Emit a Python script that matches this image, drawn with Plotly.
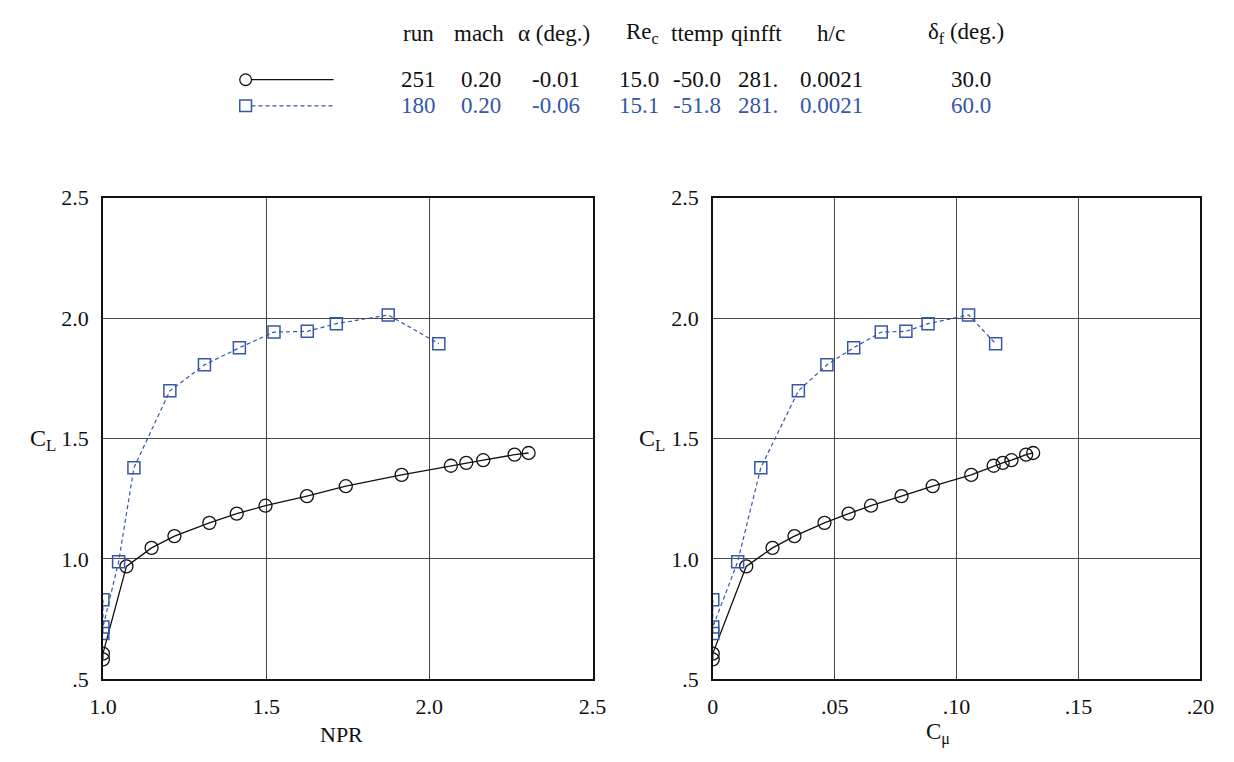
import plotly.graph_objects as go

# ---------------- data ----------------
npr_251 = [1.000, 1.000, 1.072, 1.149, 1.219, 1.326, 1.410, 1.498, 1.625, 1.744, 1.915, 2.066, 2.113, 2.165, 2.261, 2.304]
cmu_251 = [0.0000, 0.0000, 0.0137, 0.0245, 0.0335, 0.0458, 0.0557, 0.0649, 0.0774, 0.0902, 0.1060, 0.1152, 0.1189, 0.1225, 0.1285, 0.1314]
cl_251 = [0.583, 0.607, 0.969, 1.046, 1.095, 1.150, 1.188, 1.221, 1.261, 1.302, 1.349, 1.387, 1.399, 1.410, 1.433, 1.440]

npr_180 = [1.000, 1.000, 1.000, 1.048, 1.095, 1.205, 1.311, 1.418, 1.524, 1.626, 1.715, 1.874, 2.029]
cmu_180 = [0.0000, 0.0000, 0.0000, 0.0102, 0.0197, 0.0351, 0.0468, 0.0578, 0.0691, 0.0792, 0.0883, 0.1049, 0.1160]
cl_180 = [0.831, 0.690, 0.717, 0.988, 1.379, 1.698, 1.806, 1.877, 1.942, 1.945, 1.977, 2.013, 1.894]

header_labels = ["run", "mach", "α (deg.)", "Re<sub>c</sub>", "ttemp", "qinfft", "h/c", "δ<sub>f</sub> (deg.)"]
row_251 = ["251", "0.20", "-0.01", "15.0", "-50.0", "281.", "0.0021", "30.0"]
row_180 = ["180", "0.20", "-0.06", "15.1", "-51.8", "281.", "0.0021", "60.0"]

y_ticks = [0.5, 1.0, 1.5, 2.0, 2.5]
y_ticktext = [".5", "1.0", "1.5", "2.0", "2.5"]
npr_ticks = [1.0, 1.5, 2.0, 2.5]
npr_ticktext = ["1.0", "1.5", "2.0", "2.5"]
cmu_ticks = [0.0, 0.05, 0.10, 0.15, 0.20]
cmu_ticktext = ["0", ".05", ".10", ".15", ".20"]

# ---------------- styles ----------------
W, H = 1234, 762
FONT = "Liberation Serif, Times New Roman, serif"
BLACK = "#111111"
BLUE = "#3656a8"
GRID = "#4a4a4a"


def px(x):
    return x / W


def py(y):
    return 1 - y / H


fig = go.Figure()

circle_style = dict(symbol="circle-open", size=13, color=BLACK, line=dict(width=1.3, color=BLACK))
square_style = dict(symbol="square-open", size=12, color=BLUE, line=dict(width=1.5, color=BLUE))

fig.add_trace(go.Scatter(x=npr_251, y=cl_251, mode="lines+markers", xaxis="x", yaxis="y",
                         line=dict(color=BLACK, width=1.3), marker=circle_style, showlegend=False))
fig.add_trace(go.Scatter(x=npr_180, y=cl_180, mode="lines+markers", xaxis="x", yaxis="y",
                         line=dict(color=BLUE, width=1.2, dash="4px,3px"), marker=square_style, showlegend=False))
fig.add_trace(go.Scatter(x=cmu_251, y=cl_251, mode="lines+markers", xaxis="x2", yaxis="y2",
                         line=dict(color=BLACK, width=1.3), marker=circle_style, showlegend=False))
fig.add_trace(go.Scatter(x=cmu_180, y=cl_180, mode="lines+markers", xaxis="x2", yaxis="y2",
                         line=dict(color=BLUE, width=1.2, dash="4px,3px"), marker=square_style, showlegend=False))

tickfont = dict(family=FONT, size=22, color=BLACK)
common_axis = dict(showline=True, linecolor=BLACK, linewidth=1.5, mirror=True,
                   showgrid=True, gridcolor=GRID, gridwidth=1, zeroline=False,
                   ticks="", tickfont=tickfont, fixedrange=True)

ydom = [py(690), py(192)]
fig.update_layout(
    width=W, height=H,
    margin=dict(l=0, r=0, t=0, b=0),
    paper_bgcolor="white", plot_bgcolor="white",
    showlegend=False,
    font=dict(family=FONT),
    xaxis=dict(domain=[px(91), px(592)], range=[1.0, 2.5], tickvals=npr_ticks, ticktext=npr_ticktext,
               anchor="y", ticklabelstandoff=6, **common_axis),
    yaxis=dict(domain=ydom, range=[0.5, 2.5], tickvals=y_ticks, ticktext=y_ticktext,
               anchor="x", ticklabelstandoff=8, **common_axis),
    xaxis2=dict(domain=[px(715), px(1214)], range=[0.0, 0.2], tickvals=cmu_ticks, ticktext=cmu_ticktext,
                anchor="y2", ticklabelstandoff=6, **common_axis),
    yaxis2=dict(domain=ydom, range=[0.5, 2.5], tickvals=y_ticks, ticktext=y_ticktext,
                anchor="x2", ticklabelstandoff=8, **common_axis),
)

annotations = []


def add_text(x, y, text, size=23, color=BLACK, xanchor="center"):
    annotations.append(dict(x=px(x), y=py(y), xref="paper", yref="paper", text=text, showarrow=False,
                            xanchor=xanchor, yanchor="middle", font=dict(family=FONT, size=size, color=color)))


# axis titles
add_text(335, 747, "NPR", size=22)
add_text(945, 746, "C<sub>μ</sub>", size=23)
add_text(30, 443, "C<sub>L</sub>", size=24)
add_text(653, 443, "C<sub>L</sub>", size=24)

# legend table
header_x = [414, 476, 553, 643, 699, 760, 836, 974]
value_x = [414, 478, 555, 640, 699, 761, 836, 979]
for lab, xx in zip(header_labels, header_x):
    add_text(xx, 22, lab)
for val, xx in zip(row_251, value_x):
    add_text(xx, 70, val, color=BLACK)
for val, xx in zip(row_180, value_x):
    add_text(xx, 97, val, color=BLUE)

fig.update_layout(annotations=annotations)

# legend keys
shapes = [
    dict(type="line", xref="paper", yref="paper", x0=px(243), x1=px(327), y0=py(70), y1=py(70),
         line=dict(color=BLACK, width=1.3)),
    dict(type="circle", xref="paper", yref="paper", x0=px(231), x1=px(243), y0=py(76), y1=py(64),
         line=dict(color=BLACK, width=1.3), fillcolor="white"),
    dict(type="line", xref="paper", yref="paper", x0=px(243), x1=px(327), y0=py(97), y1=py(97),
         line=dict(color=BLUE, width=1.2, dash="4px,3px")),
    dict(type="rect", xref="paper", yref="paper", x0=px(231), x1=px(243), y0=py(103), y1=py(91),
         line=dict(color=BLUE, width=1.5), fillcolor="white"),
]
fig.update_layout(shapes=shapes)

fig.write_html("out.html")
